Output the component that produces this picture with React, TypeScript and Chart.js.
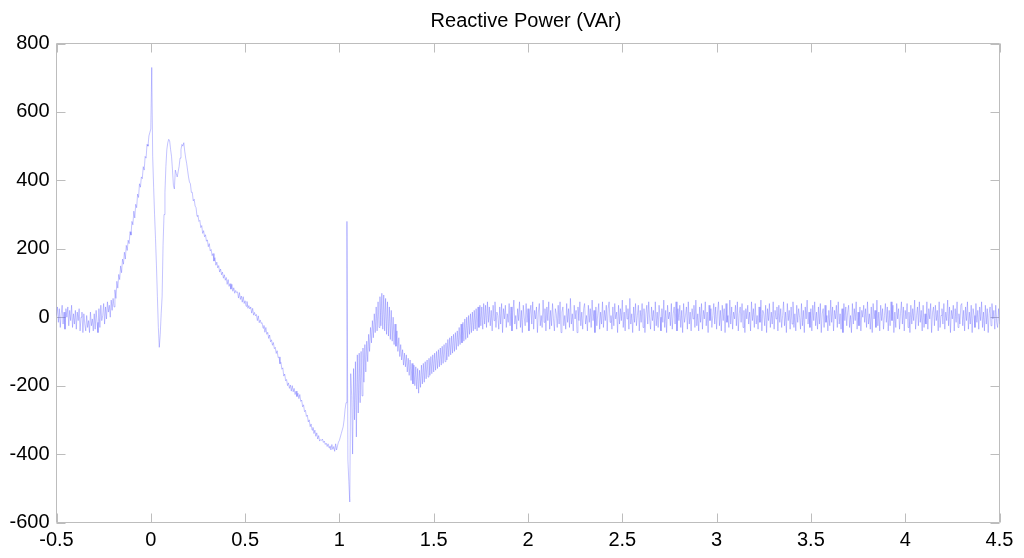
import React, { useEffect, useRef } from "react";
import { Chart, registerables } from "chart.js";

Chart.register(...registerables);

const TITLE = "Reactive Power (VAr)";
const T_START = -0.5;
const T_STEP = 0.005;
const X_TICKS = [-0.5, 0, 0.5, 1, 1.5, 2, 2.5, 3, 3.5, 4, 4.5];
const Y_TICKS = [-600, -400, -200, 0, 200, 400, 600, 800];

// Reactive power samples, one every 0.005 s starting at t = -0.5 (20 per row = 0.1 s)
const reactivePower = [
  5, 30, -15, 25, -30, 10, 35, -20, 15, -35, 25, 0, 30, -25, 20, -10, 35, -30, 10, -20,
  20, -35, 15, -10, 25, -40, 0, 15, -45, 10, -20, -40, 5, -30, -10, -45, 15, -25, -5, -40,
  10, -35, 20, -15, -45, 25, -30, 35, -10, 5, 40, -20, 30, -5, 45, 15, 35, 0, 50, 20,
  55, 30, 80, 55, 105, 85, 125, 110, 150, 130, 170, 155, 190, 170, 210, 195, 225, 215, 250, 240,
  280, 270, 310, 290, 330, 320, 360, 350, 390, 380, 410, 405, 440, 430, 470, 465, 505, 500, 530, 540,
  550, 730, 470, 380, 300, 230, 150, 60, -30, -88, -50, 10, 60, 210, 300, 365, 440, 490, 510, 520,
  515, 490, 470, 430, 385, 375, 430, 420, 410, 425, 440, 465, 490, 505, 500, 510, 485, 465, 450, 430,
  410, 395, 390, 365, 365, 340, 345, 325, 320, 295, 298, 280, 283, 262, 268, 245, 253, 235, 241, 222,
  226, 206, 215, 194, 198, 180, 186, 164, 174, 152, 161, 144, 151, 132, 141, 124, 132, 114, 124, 108,
  116, 96, 110, 90, 98, 82, 96, 76, 86, 70, 78, 72, 74, 56, 72, 52, 62, 44, 60, 40,
  48, 32, 46, 26, 34, 24, 30, 12, 26, 6, 14, 4, 8, -10, 4, -16, -8, -18, -16, -32,
  -24, -44, -30, -50, -44, -62, -52, -72, -66, -82, -74, -92, -88, -106, -98, -118, -116, -136, -132, -152,
  -148, -172, -166, -186, -182, -200, -192, -208, -198, -216, -200, -218, -208, -226, -216, -232, -222, -238, -226, -246,
  -242, -262, -256, -276, -272, -290, -286, -306, -300, -320, -312, -330, -322, -340, -330, -348, -338, -356, -346, -362,
  -358, -360, -356, -366, -362, -372, -368, -378, -370, -382, -376, -388, -372, -386, -378, -392, -370, -388, -376, -365,
  -360, -350, -340, -330, -320, -300, -270, -250, 280, -417, -480, -540, -165, -230, -400, -150, -300, -130, -350, -110,
  -280, -105, -250, -100, -230, -90, -190, -80, -160, -70, -130, -50, -100, -30, -75, -10, -60, 10, -45, 30,
  -40, 45, -30, 60, -25, 70, -35, 65, -40, 55, -50, 45, -55, 30, -65, 20, -70, 0, -80, -20,
  -85, -40, -100, -60, -115, -80, -125, -95, -140, -105, -145, -110, -160, -120, -170, -125, -185, -135, -195, -140,
  -200, -145, -210, -150, -222, -155, -205, -140, -195, -135, -190, -130, -180, -125, -175, -120, -170, -115, -165, -110,
  -160, -105, -155, -100, -150, -95, -145, -90, -140, -85, -135, -80, -130, -75, -125, -65, -115, -60, -110, -55,
  -105, -50, -100, -45, -95, -40, -85, -30, -80, -20, -75, -15, -70, -5, -65, 0, -60, 5, -50, 10,
  -45, 15, -40, 20, -35, 25, -40, 30, -30, 35, -25, 30, -35, 40, -20, 35, -30, 45, -15, 30,
  -25, 20, -40, 35, -10, 45, -30, 15, 5, -35, 30, -20, 40, -45, 25, -5, 35, -30, 10, -15,
  40, -25, 30, -40, 15, 50, -20, 5, -35, 25, -10, 45, -30, 20, -45, 35, 0, -25, 40, -15,
  25, -40, 10, 35, -20, 45, -35, 20, -5, 30, -45, 15, 40, -25, 5, -30, 50, -15, 25, -40,
  30, -10, 45, -35, 20, -25, 40, -5, -40, 25, 10, -30, 35, -20, 45, -45, 15, 30, -25, 5,
  -35, 40, -15, 25, -30, 55, -20, 10, -40, 35, -5, 20, -45, 30, -10, 45, -25, 15, -35, 25,
  40, -20, 5, -40, 35, -15, 25, -30, 50, -10, 20, -45, 30, -25, 10, 40, -35, 15, -20, 45,
  -30, 20, -10, 35, -40, 25, 45, -15, 5, -35, 30, -25, 40, -5, 15, -45, 35, -20, 25, -10,
  50, -30, 15, -40, 35, -5, 25, -35, 55, -20, 10, -45, 30, -15, 40, -25, 5, 35, -40, 20,
  -15, 40, -30, 25, -45, 10, 35, -20, 45, -5, -35, 30, -10, 20, -40, 45, -25, 15, -30, 35,
  0, -40, 25, -15, 50, -30, 20, -45, 35, -5, 15, -25, 40, -35, 10, 30, -20, 45, -40, 25,
  -10, 35, -30, 20, -45, 40, -15, 5, 30, -35, 45, -20, 15, -40, 25, -5, 35, -30, 50, -25,
  10, -40, 30, -15, 40, -35, 20, -5, 45, -25, 15, -45, 35, -10, 25, -30, 5, 40, -20, 30,
  -35, 15, 45, -25, 20, -40, 35, -10, 25, -45, 40, -15, 5, -30, 50, -20, 30, -35, 15, -5,
  35, -25, 45, -40, 10, 30, -15, 40, -30, 20, -45, 25, -5, 35, -20, 15, -40, 45, -10, 25,
  -30, 40, -20, 5, -35, 30, -15, 50, -40, 20, 10, -25, 35, -45, 25, -10, 40, -30, 15, -20,
  45, -35, 20, -5, 30, -40, 35, -15, 25, -30, 5, 45, -25, 15, -45, 40, -10, 20, -35, 30,
  -20, 45, -30, 10, -40, 35, -15, 25, 0, -35, 40, -25, 20, -45, 30, -5, 50, -20, 15, -30,
  25, -40, 35, -10, 45, -25, 15, -35, 30, -20, 40, -45, 10, 25, -30, 35, -15, 5, -40, 20,
  -25, 50, -15, 30, -40, 20, -5, 35, -30, 45, -20, 10, -35, 25, -45, 40, -10, 30, -25, 15,
  35, -30, 5, -45, 40, -20, 25, -10, 45, -35, 15, -25, 30, -40, 20, 0, 35, -15, 25, -30,
  45, -20, 10, -35, 30, -45, 40, -5, 20, -30, 50, -25, 15, -40, 35, -10, 25, -35, 5, 40,
  -15, 30, -40, 20, -25, 45, -10, 35, -45, 15, -30, 40, -5, 25, -35, 10, 45, -20, 30, -40,
  20, -5, 40, -30, 15, -45, 35, -20, 25, -10, 50, -35, 5, 30, -25, 45, -15, 20, -40, 35,
  -30, 10, -20, 45, -35, 25, -5, 40, -45, 15, 30, -25, 35, -10, 20, -40, 45, -30, 5, 25,
  -20, 40, -35, 15, -10, 50, -25, 30, -45, 20, -5, 35, -40, 25, -15, 45, -30, 10, -20, 35,
  40, -25, 20, -40, 30, -10, 45, -35, 15, -20, 35, -45, 25, 5, -30, 40, -15, 20, -35, 30,
  -10, 45, -30, 15, -40, 35, -20, 25, -45, 10, 30, -25, 40, -5, 20, -35, 35, -15, -30, 25,
  -20,
];

const FONT_FAMILY = "'Liberation Sans', Arial, Helvetica, sans-serif";
const FRAME_COLOR = "#bdbdbd";
const TICK_LEN = 9;

const framePlugin = {
  id: "frameTicks",
  beforeDatasetsDraw(chart: any) {
    const { ctx, chartArea, scales } = chart;
    const { left, right, top, bottom } = chartArea;
    ctx.save();
    ctx.strokeStyle = FRAME_COLOR;
    ctx.lineWidth = 1;
    ctx.beginPath();
    ctx.rect(left, top, right - left, bottom - top);
    ctx.stroke();
    ctx.beginPath();
    for (const t of scales.x.ticks) {
      const px = Math.round(scales.x.getPixelForValue(t.value)) + 0.5;
      ctx.moveTo(px, bottom);
      ctx.lineTo(px, bottom - TICK_LEN);
      ctx.moveTo(px, top);
      ctx.lineTo(px, top + TICK_LEN);
    }
    for (const t of scales.y.ticks) {
      const py = Math.round(scales.y.getPixelForValue(t.value)) + 0.5;
      ctx.moveTo(left, py);
      ctx.lineTo(left + TICK_LEN, py);
      ctx.moveTo(right, py);
      ctx.lineTo(right - TICK_LEN, py);
    }
    ctx.stroke();
    ctx.restore();
  },
  afterDraw(chart: any) {
    const { ctx, chartArea } = chart;
    ctx.save();
    ctx.fillStyle = "#000";
    ctx.font = `20px ${FONT_FAMILY}`;
    ctx.textAlign = "center";
    ctx.textBaseline = "alphabetic";
    ctx.fillText(TITLE, (chartArea.left + chartArea.right) / 2 - 2, 26.5);
    ctx.restore();
  },
};

export default function App() {
  const canvasRef = useRef<HTMLCanvasElement | null>(null);

  useEffect(() => {
    if (!canvasRef.current) return;
    const points = reactivePower.map((v, i) => ({
      x: +(T_START + i * T_STEP).toFixed(3),
      y: v,
    }));
    const chart = new Chart(canvasRef.current, {
      type: "line",
      data: {
        datasets: [
          {
            data: points,
            borderColor: "rgba(100, 100, 255, 0.38)",
            borderWidth: 1,
            pointRadius: 0,
            tension: 0,
            fill: false,
          },
        ],
      },
      options: {
        animation: false,
        responsive: false,
        devicePixelRatio: 1,
        layout: { padding: { top: 43.5, right: 24.5, left: 0, bottom: 0 } },
        plugins: {
          legend: { display: false },
          title: { display: false },
          tooltip: { enabled: false },
        },
        scales: {
          x: {
            type: "linear",
            min: -0.5,
            max: 4.5,
            grid: { display: false, drawTicks: false },
            border: { display: false },
            afterBuildTicks: (s: any) => {
              s.ticks = X_TICKS.map((v) => ({ value: v }));
            },
            afterFit: (s: any) => {
              s.height = 35.5;
            },
            ticks: {
              autoSkip: false,
              maxRotation: 0,
              padding: 6,
              color: "#000",
              font: { size: 20, family: FONT_FAMILY },
              callback: (v: any) => String(v),
            },
          },
          y: {
            type: "linear",
            min: -600,
            max: 800,
            grid: { display: false, drawTicks: false },
            border: { display: false },
            afterBuildTicks: (s: any) => {
              s.ticks = Y_TICKS.map((v) => ({ value: v }));
            },
            afterFit: (s: any) => {
              s.width = 56.5;
            },
            ticks: {
              autoSkip: false,
              padding: 7,
              color: "#000",
              font: { size: 20, family: FONT_FAMILY },
              callback: (v: any) => String(v),
            },
          },
        },
      },
      plugins: [framePlugin],
    });
    return () => chart.destroy();
  }, []);

  return (
    <div style={{ position: "absolute", left: 0, top: 0, width: 1024, height: 558, background: "#fff" }}>
      <canvas ref={canvasRef} width={1024} height={558} style={{ display: "block" }} />
    </div>
  );
}
